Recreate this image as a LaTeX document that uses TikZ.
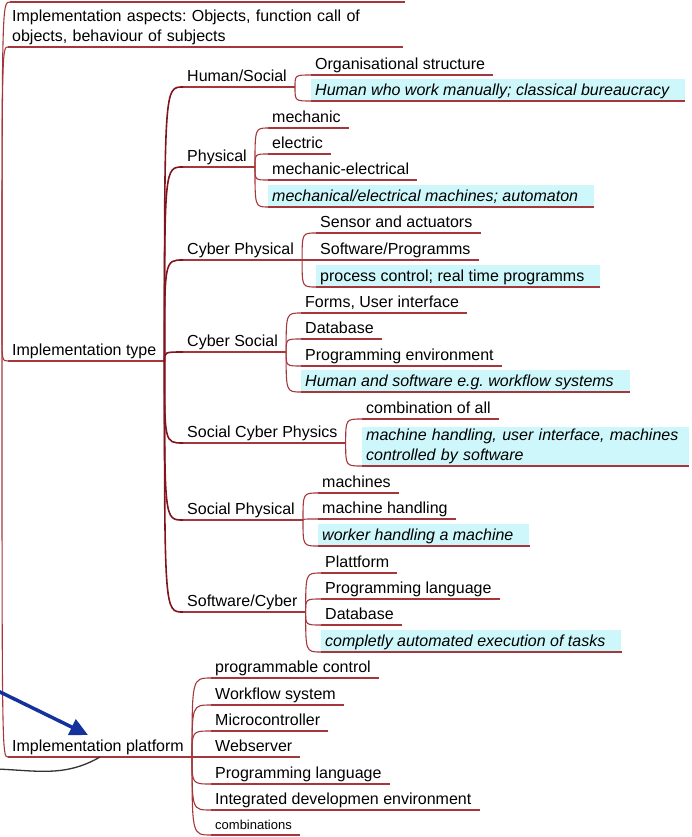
\documentclass[tikz,border=0pt]{standalone}
\usepackage{fontspec}
\setmainfont{Liberation Sans}
\frenchspacing
\usetikzlibrary{arrows.meta}
\definecolor{linered}{RGB}{165,55,60}
\definecolor{trunkred}{RGB}{130,20,30}
\definecolor{notecyan}{RGB}{205,247,250}
\definecolor{linkblue}{RGB}{20,50,155}
\tikzset{
  topic/.style={anchor=south west, inner xsep=4pt, inner ysep=2pt, font=\fontsize{16}{20}\selectfont,
    execute at end node={\hspace*{4pt}}},
  oneline/.style={topic, text height=11.5pt, text depth=3.5pt},
  note/.style={oneline, fill=notecyan, text height=14.5pt, font=\fontsize{16}{20}\selectfont\itshape,
    execute at end node={\hspace*{8pt}}},
  branch/.style={draw=linered, line width=1.1pt,
    to path={.. controls (\tikztostart |- \tikztotarget) .. (\tikztotarget)}},
  trunk/.style={branch, draw=trunkred, line width=1.6pt}
}
\begin{document}
\begin{tikzpicture}[x=1pt,y=-1pt]
\clip (0,0) rectangle (692,837);
\coordinate (root) at (2,330);
\coordinate (topstart) at (10,2);
\coordinate (topend) at (405,2);
\coordinate (bluetail) at (-4,690);
\coordinate (bluetip) at (88,735);
\coordinate (greylink) at (-4,769);
\path
  (8,47) node(aspects) [topic, text width=387pt, align=left, execute at end node={}] {Implementation aspects: Objects, function call of\\objects, behaviour of subjects}
  (8,361) node(type) [oneline] {Implementation type}
  (8,757) node(platform) [oneline] {Implementation platform}
  % kinds of implementation
  (183,87) node(humansocial) [oneline] {Human/Social}
  (183,167) node(physical) [oneline] {Physical}
  (183,260) node(cyberphys) [oneline] {Cyber Physical}
  (183,352) node(cybersoc) [oneline] {Cyber Social}
  (183,443) node(soccyberphys) [oneline] {Social Cyber Physics}
  (183,520) node(socphys) [oneline] {Social Physical}
  (183,612) node(softcyber) [oneline] {Software/Cyber}
  % Human/Social
  (311,75) node(orgstruct) [oneline] {Organisational structure}
  (311,101) node(manual) [note] {Human who work manually; classical bureaucracy}
  % Physical
  (268,128) node(mechanic) [oneline] {mechanic}
  (268,154) node(electric) [oneline] {electric}
  (268,180) node(mecel) [oneline] {mechanic-electrical}
  (268,207) node(automaton) [note] {mechanical/electrical machines; automaton}
  % Cyber Physical
  (316,233) node(sensor) [oneline] {Sensor and actuators}
  (316,260) node(programms) [oneline] {Software/Programms}
  (316,287) node(realtime) [note, font=\fontsize{16}{20}\selectfont] {process control; real time programms}
  % Cyber Social
  (301,313) node(forms) [oneline] {Forms, User interface}
  (301,339) node(database) [oneline] {Database}
  (301,366) node(progenv) [oneline] {Programming environment}
  (301,392) node(workflowsys) [note] {Human and software e.g. workflow systems}
  % Social Cyber Physics
  (362,419) node(allcombined) [oneline] {combination of all}
  (362,466) node(handlingall) [topic, fill=notecyan, text width=319pt, align=left, execute at end node={}, font=\fontsize{16}{20}\selectfont\itshape] {machine handling, user interface, machines\\controlled by software}
  % Social Physical
  (318,493) node(machines) [oneline] {machines}
  (318,519) node(handling) [oneline] {machine handling}
  (318,546) node(worker) [note] {worker handling a machine}
  % Software/Cyber
  (321,573) node(plattform) [oneline] {Plattform}
  (321,599) node(proglang) [oneline] {Programming language}
  (321,625) node(database2) [oneline] {Database}
  (321,652) node(automated) [note] {completly automated execution of tasks}
  % Implementation platform
  (211,678) node(plc) [oneline] {programmable control}
  (211,705) node(workflow) [oneline] {Workflow system}
  (211,731) node(micro) [oneline] {Microcontroller}
  (211,757) node(webserver) [oneline] {Webserver}
  (211,784) node(proglang2) [oneline] {Programming language}
  (211,810) node(ide) [oneline] {Integrated developmen environment}
  (211,835) node(combis) [oneline, font=\fontsize{13}{16}\selectfont] {combinations};
% underlines
\foreach \n in {aspects,type,platform,humansocial,physical,cyberphys,cybersoc,soccyberphys,socphys,softcyber,
  orgstruct,manual,mechanic,electric,mecel,automaton,sensor,programms,realtime,forms,database,progenv,workflowsys,
  allcombined,handlingall,machines,handling,worker,plattform,proglang,database2,automated,
  plc,workflow,micro,webserver,proglang2,ide,combis}
  \draw[branch] (\n.south west) -- (\n.south east);
\draw[branch] (root) edge (topstart) edge (aspects.south west) edge (type.south west) edge (platform.south west)
  (topstart) -- (topend);
\draw[trunk] (type.south east) edge (humansocial.south west) edge (physical.south west) edge (cyberphys.south west)
  edge (cybersoc.south west) edge (soccyberphys.south west) edge (socphys.south west) edge (softcyber.south west);
\draw[branch]
  (humansocial.south east) edge (orgstruct.south west) edge (manual.south west)
  (physical.south east) edge (mechanic.south west) edge (electric.south west) edge (mecel.south west) edge (automaton.south west)
  (cyberphys.south east) edge (sensor.south west) edge (programms.south west) edge (realtime.south west)
  (cybersoc.south east) edge (forms.south west) edge (database.south west) edge (progenv.south west) edge (workflowsys.south west)
  (soccyberphys.south east) edge (allcombined.south west) edge (handlingall.south west)
  (socphys.south east) edge (machines.south west) edge (handling.south west) edge (worker.south west)
  (softcyber.south east) edge (plattform.south west) edge (proglang.south west) edge (database2.south west) edge (automated.south west)
  (platform.south east) edge (plc.south west) edge (workflow.south west) edge (micro.south west) edge (webserver.south west)
  edge (proglang2.south west) edge (ide.south west) edge (combis.south west);
% links from outside
\draw[linkblue, line width=3.5pt, -{Triangle[length=18pt,width=17pt]}] (bluetail) -- (bluetip);
\draw[black!80, line width=1.3pt] (greylink) to[out=-2, in=210] ([xshift=92pt]platform.south west);
\end{tikzpicture}
\end{document}
